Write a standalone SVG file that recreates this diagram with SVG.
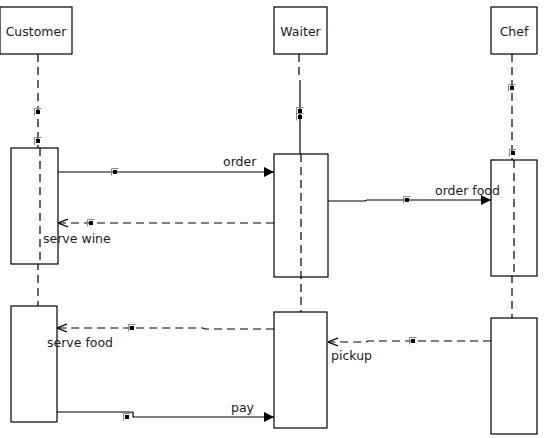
<svg xmlns="http://www.w3.org/2000/svg" width="544" height="438" viewBox="0 0 544 438">
<defs>
<marker id="filled" viewBox="0 0 10 10" refX="10" refY="5" markerWidth="10" markerHeight="10" markerUnits="userSpaceOnUse" orient="auto"><path d="M0,0 L10,5 L0,10 z" fill="#000"/></marker>
<marker id="open" viewBox="0 0 10 10" refX="10" refY="5" markerWidth="10" markerHeight="10" markerUnits="userSpaceOnUse" orient="auto"><path d="M0,1 L10,5 L0,9" fill="none" stroke="#000" stroke-width="1.2"/></marker>
<g id="mk"><path d="M-3.5,3.5 V-3.5 H3.5" fill="none" stroke="#888" stroke-width="1"/><rect x="-2" y="-2" width="4" height="4" fill="#000"/></g>
</defs>
<style>
.box{fill:#fff;stroke:#000;stroke-width:1.2}
.life{stroke:#000;stroke-width:1.2;stroke-dasharray:8,5;fill:none}
.solid{stroke:#000;stroke-width:1.2;fill:none}
.msg{stroke:#000;stroke-width:1.2;fill:none;marker-end:url(#filled)}
.ret{stroke:#000;stroke-width:1.2;fill:none;stroke-dasharray:8,5;marker-end:url(#open)}
text{font-family:"DejaVu Sans","Liberation Sans",sans-serif;font-size:12.5px;fill:#222}
</style>
<g id="lifelines">
<path class="life" d="M38,54 V306"/>
<path class="life" d="M299,54 V80"/>
<path class="solid" d="M300,80 V154"/>
<path class="life" d="M301,154 V312"/>
<path class="life" d="M512,54 V318"/>
</g>
<g id="customer"><rect class="box" x="0" y="7" width="72" height="47"/><text x="36" y="36" text-anchor="middle">Customer</text></g>
<g id="waiter"><rect class="box" x="274" y="7" width="53" height="47"/><text x="300.5" y="36" text-anchor="middle">Waiter</text></g>
<g id="chef"><rect class="box" x="491" y="7" width="46" height="47"/><text x="514" y="36" text-anchor="middle">Chef</text></g>
<g id="customer-act1"><rect class="box" x="11" y="148" width="47" height="116"/></g>
<g id="customer-act2"><rect class="box" x="11" y="306" width="46" height="116"/></g>
<g id="waiter-act1"><rect class="box" x="274" y="154" width="54" height="123"/></g>
<g id="waiter-act2"><rect class="box" x="274" y="312" width="53" height="116"/></g>
<g id="chef-act1"><rect class="box" x="491" y="160" width="46" height="116"/></g>
<g id="chef-act2"><rect class="box" x="491" y="318" width="46" height="116"/></g>
<g id="lifeline-inner">
<path class="life" d="M40,148 V264"/>
<path class="life" d="M301,154 V277"/>
<path class="life" d="M514,160 V276"/>
</g>
<g id="connectors">
<path class="msg" d="M58,172 H274"/>
<path class="ret" d="M274,223 H58"/>
<path class="msg" d="M328,201 H365 L367,200 H491"/>
<path class="ret" d="M274,329 H205 L203,328 H57"/>
<path class="ret" d="M491,341 H368 L366,342 H328"/>
<path class="msg" d="M57,412 H133 V417 H274"/>
</g>
<g id="markers">
<use href="#mk" x="38" y="112"/>
<use href="#mk" x="38" y="141"/>
<use href="#mk" x="300" y="111"/>
<use href="#mk" x="300" y="117"/>
<use href="#mk" x="512" y="88"/>
<use href="#mk" x="513" y="153"/>
<use href="#mk" x="115" y="172"/>
<use href="#mk" x="91" y="223"/>
<use href="#mk" x="407" y="200"/>
<use href="#mk" x="132" y="328"/>
<use href="#mk" x="413" y="341"/>
<use href="#mk" x="127" y="417"/>
</g>
<g id="labels">
<text x="223" y="166">order</text>
<text x="43" y="243">serve wine</text>
<text x="435" y="195">order food</text>
<text x="47" y="347">serve food</text>
<text x="331" y="360">pickup</text>
<text x="231" y="412">pay</text>
</g>
</svg>
